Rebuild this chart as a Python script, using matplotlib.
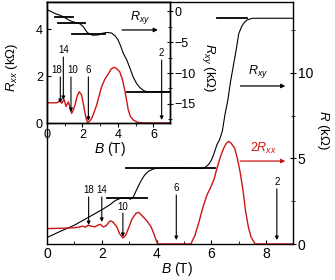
import numpy as np
import matplotlib
matplotlib.use("Agg")
import matplotlib.pyplot as plt
from matplotlib.ticker import MultipleLocator

plt.rcParams["font.family"] = ["Liberation Sans", "DejaVu Sans"]
plt.rcParams["mathtext.fontset"] = "custom"
plt.rcParams["mathtext.rm"] = "Liberation Sans"
plt.rcParams["mathtext.it"] = "Liberation Sans:italic"

RED = "#cc1414"

# ── main panel: Rxy and 2Rxx vs B ──────────────────────────────────────────
main_B_xy = [0, 0.5, 1.0, 1.5, 2.0, 2.3, 2.5, 2.7, 2.9, 3.05, 3.15, 3.25, 3.4, 3.55,
             3.7, 3.9, 4.2, 5.0, 5.6, 5.75, 5.9, 6.0, 6.1, 6.2, 6.3, 6.4, 6.5, 6.6,
             6.7, 6.8, 6.9, 7.0, 7.1, 7.2, 7.3, 7.5, 9.0]
main_Rxy = [0.38, 0.75, 1.1, 1.55, 2.0, 2.3, 2.55, 2.68, 2.7, 2.62, 2.75, 3.1, 3.6, 4.0,
            4.25, 4.4, 4.45, 4.45, 4.42, 4.45, 4.65, 4.9, 5.3, 5.8, 6.1, 6.6, 7.6, 8.4,
            9.5, 10.4, 11.3, 12.3, 12.7, 12.95, 13.1, 13.2, 13.2]

main_B_xx = [0, 0.5, 1.0, 1.2, 1.3, 1.4, 1.5, 1.6, 1.75, 1.85, 1.95, 2.05, 2.15, 2.3,
             2.4, 2.55, 2.65, 2.77, 2.87, 2.97, 3.1, 3.25, 3.35, 3.5, 3.65, 3.8, 3.9,
             4.0, 4.05, 5.25, 5.4, 5.55, 5.7, 5.85, 6.0, 6.1, 6.2, 6.33, 6.45, 6.55,
             6.63, 6.72, 6.85, 6.95, 7.05, 7.15, 7.25, 7.35, 7.45, 7.6, 9.0]
main_2Rxx = [0.9, 0.92, 0.95, 1.0, 1.05, 0.98, 1.1, 1.05, 1.0, 1.1, 1.15, 1.0, 1.05, 1.35,
             1.3, 1.0, 0.6, 0.35, 0.5, 0.9, 1.45, 1.8, 1.85, 1.6, 1.35, 1.0, 0.6,
             0.15, 0.0, 0.0, 0.5, 1.3, 2.2, 2.9, 3.4, 3.8, 4.4, 5.1, 5.6, 5.9,
             6.0, 5.9, 5.6, 5.0, 4.2, 3.2, 1.9, 1.0, 0.4, 0.0, 0.0]

# plateau guide lines: (B start, B end, R)
main_plateaus = [(6.2, 7.3, 13.2), (2.9, 6.15, 4.44), (2.2, 3.66, 2.69)]

# filling-factor arrows: label, B, label x, label y, arrow start, arrow end
main_nu = ["18", "14", "10", "6", "2"]
main_nu_B = [1.52, 2.0, 2.77, 4.72, 8.39]
main_nu_lx = [1.52, 2.0, 2.77, 4.72, 8.39]
main_nu_label = [3.16, 3.16, 2.16, 3.27, 3.63]
main_nu_top = [2.75, 2.75, 1.81, 2.87, 3.22]
main_nu_bot = [1.11, 1.29, 0.41, 0.23, 0.23]

# ── inset: Rxx (left) and Rxy (right) ──────────────────────────────────────
ins_B_xy = [0, 0.3, 0.5, 0.73, 1.0, 1.3, 1.6, 1.86, 2.05, 2.24, 2.4, 2.6, 2.9, 3.1,
            3.36, 3.64, 3.85, 4.0, 4.15, 4.3, 4.5, 4.7, 4.85, 5.05, 5.25, 5.45, 5.6, 6.93]
ins_Rxy = [0.3, -0.1, -0.4, -0.6, -1.0, -1.5, -1.8, -2.0, -2.5, -3.3, -3.7, -3.85, -3.8, -3.55,
           -3.4, -3.5, -4.0, -4.6, -5.6, -6.8, -7.9, -9.4, -10.6, -11.7, -12.4, -12.85, -13.0, -13.0]

ins_B_xx = [0, 0.55, 0.65, 0.73, 0.78, 0.83, 0.9, 0.96, 1.02, 1.07, 1.13, 1.2, 1.3, 1.39,
            1.48, 1.58, 1.7, 1.82, 1.95, 2.05, 2.14, 2.22, 2.29, 2.4, 2.52, 2.65, 2.8, 2.95,
            3.08, 3.25, 3.46, 3.62, 3.77, 3.9, 4.1, 4.25, 4.38, 4.5, 4.58, 4.7, 4.86, 5.1,
            5.5, 6.93]
ins_Rxx = [0.86, 0.86, 0.9, 0.98, 0.9, 0.84, 0.93, 1.0, 0.85, 0.7, 0.8, 0.9, 0.65, 0.41,
           0.55, 0.77, 1.15, 1.33, 1.19, 0.8, 0.43, 0.15, 0.03, 0.08, 0.2, 0.45, 0.77, 1.2,
           1.55, 1.85, 2.1, 2.3, 2.37, 2.33, 2.18, 1.85, 1.4, 0.9, 0.55, 0.28, 0.13, 0.03,
           0.0, 0.0]

ins_plateaus = [(0.45, 1.45, -0.85), (0.6, 2.14, -1.9), (1.4, 3.27, -3.7), (4.5, 6.93, -13.0)]

ins_nu = ["18", "14", "10", "6", "2"]
ins_nu_B = [0.75, 0.92, 1.35, 2.33, 6.46]
ins_nu_lx = [0.55, 0.92, 1.42, 2.33, 6.46]
ins_nu_label = [2.26, 3.1, 2.26, 2.26, 2.98]
ins_nu_top = [1.96, 2.81, 1.96, 1.96, 2.68]
ins_nu_bot = [0.85, 0.98, 0.47, 0.09, 0.13]


def nu_arrows(ax, labels, xs, lxs, ylab, ytop, ybot):
    for lab, x, lx, yl, y0, y1 in zip(labels, xs, lxs, ylab, ytop, ybot):
        ax.annotate("", xy=(x, y1), xytext=(x, y0),
                    arrowprops=dict(arrowstyle="-|>", lw=0.8, color="k",
                                    mutation_scale=5, shrinkA=0, shrinkB=0))
        ax.text(lx, yl, lab, ha="center", va="center", fontsize=7)


def side_arrow(ax, x0, x1, y, color):
    ax.annotate("", xy=(x1, y), xytext=(x0, y),
                arrowprops=dict(arrowstyle="-|>", lw=0.9, color=color,
                                mutation_scale=6, shrinkA=0, shrinkB=0))


fig = plt.figure(figsize=(3.35, 2.8), dpi=100)

ax = fig.add_axes([47 / 335, 36 / 280, 246 / 335, 242 / 280])
ax.plot(main_B_xy, main_Rxy, color="k", lw=0.8)
ax.plot(main_B_xx, main_2Rxx, color=RED, lw=1.0)
for b0, b1, r in main_plateaus:
    ax.plot([b0, b1], [r, r], color="k", lw=1.3)
nu_arrows(ax, main_nu, main_nu_B, main_nu_lx, main_nu_label, main_nu_top, main_nu_bot)
ax.text(7.71, 10.06, "$R_{xy}$", ha="center", va="center", fontsize=9)
side_arrow(ax, 7.06, 8.7, 9.24, "k")
ax.text(7.9, 5.6, "$2R_{xx}$", ha="center", va="center", fontsize=9, color=RED)
side_arrow(ax, 7.06, 8.7, 4.85, RED)

ax.set_xlim(0, 8.98)
ax.set_ylim(0, 14.15)
ax.xaxis.set_major_locator(MultipleLocator(2))
ax.xaxis.set_minor_locator(MultipleLocator(1))
ax.yaxis.set_major_locator(MultipleLocator(5))
ax.yaxis.set_minor_locator(MultipleLocator(2.5))
ax.tick_params(axis="x", which="both", direction="in", labelsize=10, pad=2)
ax.tick_params(axis="x", which="major", length=3)
ax.tick_params(axis="x", which="minor", length=2)
ax.tick_params(axis="y", which="both", left=False, labelleft=False, right=True,
               labelright=True, direction="inout", labelsize=10, pad=1)
ax.tick_params(axis="y", which="major", length=5)
ax.tick_params(axis="y", which="minor", length=3)
ax.set_xlabel("$B$ (T)", fontsize=10, va="center")
ax.xaxis.set_label_coords(0.53, -0.103)
ax.yaxis.set_label_position("right")
ax.set_ylabel("$R$ (kΩ)", fontsize=9.5, rotation=270, va="center")
ax.yaxis.set_label_coords(1.122, 0.47)
for s in ax.spines.values():
    s.set_linewidth(1.0)

# ── inset ───────────────────────────────────────────────────────────────────
axin = fig.add_axes([47 / 335, 157 / 280, 123 / 335, 121 / 280])
axin.set_facecolor("white")
axr = axin.twinx()
axin.set_zorder(3)
axr.set_zorder(4)

axin.plot(ins_B_xx, ins_Rxx, color=RED, lw=1.0)
axr.plot(ins_B_xy, ins_Rxy, color="k", lw=0.8)
for b0, b1, r in ins_plateaus:
    axr.plot([b0, b1], [r, r], color="k", lw=1.3)
nu_arrows(axin, ins_nu, ins_nu_B, ins_nu_lx, ins_nu_label, ins_nu_top, ins_nu_bot)
axin.text(5.24, 4.5, "$R_{xy}$", ha="center", va="center", fontsize=9)
side_arrow(axin, 4.23, 6.25, 3.96, "k")

axin.set_xlim(0, 6.93)
axin.set_ylim(0, 5.15)
axr.set_ylim(-18.1, 1.54)
axin.xaxis.set_major_locator(MultipleLocator(2))
axin.xaxis.set_minor_locator(MultipleLocator(1))
axin.yaxis.set_major_locator(MultipleLocator(2))
axin.yaxis.set_minor_locator(MultipleLocator(1))
axr.yaxis.set_major_locator(MultipleLocator(5))
axr.yaxis.set_minor_locator(MultipleLocator(2.5))
axr.set_yticks([0, -5, -10, -15])
axin.tick_params(axis="x", which="both", direction="out", labelsize=9, pad=1)
axin.tick_params(axis="x", which="major", length=3)
axin.tick_params(axis="x", which="minor", length=2)
axin.tick_params(axis="y", which="both", direction="in", labelsize=9, pad=3)
axin.tick_params(axis="y", which="major", length=3)
axin.tick_params(axis="y", which="minor", length=0)
axr.tick_params(axis="y", which="both", direction="inout", labelsize=9, pad=1)
axr.tick_params(axis="y", which="major", length=5)
axr.tick_params(axis="y", which="minor", length=3)

axin.set_xlabel("$B$ (T)", fontsize=10, va="center")
axin.xaxis.set_label_coords(0.51, -0.215)
axin.set_ylabel("$R_{xx}$ (kΩ)", fontsize=9.5, va="center")
axin.yaxis.set_label_coords(-0.285, 0.46)
axr.set_ylabel("$R_{xy}$ (kΩ)", fontsize=9.5, rotation=270, va="center")
axr.yaxis.set_label_coords(1.31, 0.455)
for a in (axin, axr):
    for s in a.spines.values():
        s.set_linewidth(1.0)

fig.savefig("out.png", dpi=100)
